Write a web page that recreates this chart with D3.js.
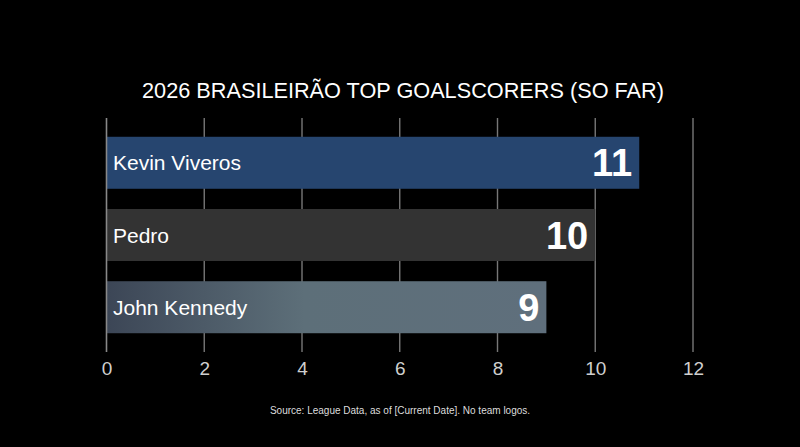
<!DOCTYPE html>
<html lang="en">
<head>
<meta charset="UTF-8">
<title>Brasileirão top goalscorers</title>
<script src="https://cdnjs.cloudflare.com/ajax/libs/d3/7.8.5/d3.min.js"></script>
<style>
  html, body { margin: 0; padding: 0; background: #000; }
  svg { display: block; font-family: "Liberation Sans", Arial, sans-serif; }
</style>
</head>
<body>
<div id="chart"></div>
<script>
  // data
  var players = ["Kevin Viveros", "Pedro", "John Kennedy"];
  var goals = [10.9, 10, 9];
  var xTicks = [0, 2, 4, 6, 8, 10, 12];
  var titleText = "2026 BRASILEIRÃO TOP GOALSCORERS (SO FAR)";
  var sourceText = "Source: League Data, as of [Current Date]. No team logos.";

  var width = 800, height = 447;
  var margin = {top: 118, right: 107, bottom: 95, left: 106.5};

  var svg = d3.select("#chart").append("svg")
    .attr("width", width)
    .attr("height", height)
    .style("background", "#000");

  var defs = svg.append("defs");
  var grad = defs.append("linearGradient").attr("id", "jkGrad")
    .attr("x1", "0%").attr("x2", "100%").attr("y1", "0%").attr("y2", "0%");
  grad.append("stop").attr("offset", "0%").attr("stop-color", "#3c4656");
  grad.append("stop").attr("offset", "45%").attr("stop-color", "#5d6f79");
  grad.append("stop").attr("offset", "100%").attr("stop-color", "#5f6f7c");

  var barColors = ["#26456f", "#333333", "url(#jkGrad)"];

  var x = d3.scaleLinear()
    .domain([0, 12])
    .range([margin.left, width - margin.right]);

  var y = d3.scaleBand()
    .domain(players)
    .range([margin.top, height - margin.bottom])
    .paddingInner(0.28)
    .paddingOuter(0.26);

  // title
  svg.append("text")
    .attr("x", width / 2 + 3)
    .attr("y", 98)
    .attr("text-anchor", "middle")
    .attr("fill", "#fff")
    .style("font-size", "21.7px")
    .text(titleText);

  // vertical gridlines
  svg.append("g").selectAll("line")
    .data(xTicks.filter(d => d > 0))
    .enter().append("line")
    .attr("x1", d => x(d)).attr("x2", d => x(d))
    .attr("y1", margin.top).attr("y2", height - margin.bottom)
    .attr("stroke", "#777")
    .attr("stroke-width", 1.4);

  // bars
  var rows = players.map((p, i) => ({name: p, value: goals[i], color: barColors[i]}));

  svg.append("g").selectAll("rect")
    .data(rows)
    .enter().append("rect")
    .attr("x", x(0))
    .attr("y", d => y(d.name))
    .attr("width", d => x(d.value) - x(0))
    .attr("height", y.bandwidth())
    .attr("fill", d => d.color);

  // zero line on top of the bars
  svg.append("line")
    .attr("x1", x(0)).attr("x2", x(0))
    .attr("y1", margin.top).attr("y2", height - margin.bottom)
    .attr("stroke", "#888")
    .attr("stroke-width", 1.6);

  // player names inside bars
  svg.append("g").selectAll("text")
    .data(rows)
    .enter().append("text")
    .attr("x", x(0) + 6.5)
    .attr("y", d => y(d.name) + y.bandwidth() / 2)
    .attr("dy", "0.36em")
    .attr("fill", "#fff")
    .style("font-size", "21px")
    .text(d => d.name);

  // goal counts at the bar ends
  svg.append("g").selectAll("text")
    .data(rows)
    .enter().append("text")
    .attr("x", d => x(d.value) - 7)
    .attr("y", d => y(d.name) + y.bandwidth() / 2)
    .attr("dy", "0.36em")
    .attr("text-anchor", "end")
    .attr("fill", "#fff")
    .style("font-size", "38px")
    .style("font-weight", "bold")
    .text(d => d3.format(".0f")(d.value));

  // x axis labels
  var xAxis = svg.append("g")
    .attr("transform", "translate(0," + (height - margin.bottom) + ")")
    .call(d3.axisBottom(x).tickValues(xTicks).tickSize(0).tickPadding(10));
  xAxis.select(".domain").remove();
  xAxis.selectAll("text")
    .attr("fill", "#cfcfcf")
    .style("font-size", "19px")
    .style("font-family", "'Liberation Sans', Arial, sans-serif");

  // source note
  svg.append("text")
    .attr("x", width / 2)
    .attr("y", 414)
    .attr("text-anchor", "middle")
    .attr("fill", "#ddd")
    .style("font-size", "10px")
    .text(sourceText);
</script>
</body>
</html>
